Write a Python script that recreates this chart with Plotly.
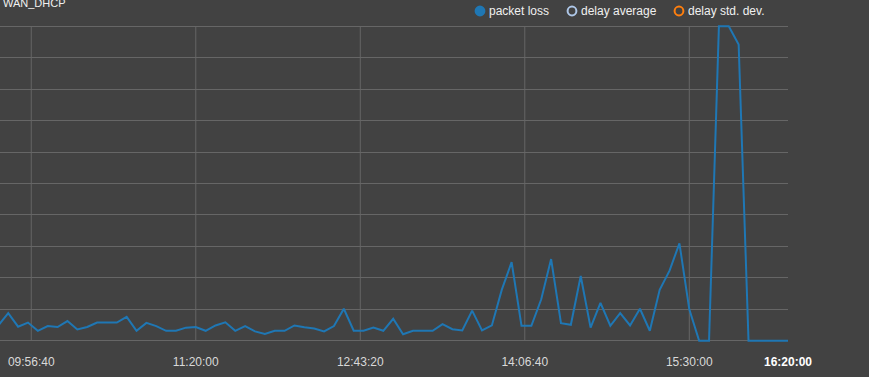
import plotly.graph_objects as go
import pandas as pd

# ---------------- data ----------------
chart_title = "WAN_DHCP"
day = "2024-05-14"
start_time = "09:40:00"
end_time = "16:20:00"
view_start = "09:40:50"

times = pd.date_range(f"{day} {start_time}", f"{day} {end_time}", freq="5min")

packet_loss = [
    4.9, 8.8, 4.5, 5.8, 3.2, 4.7, 4.4, 6.3, 3.6, 4.4,
    5.8, 5.8, 5.8, 7.6, 3.2, 5.7, 4.7, 3.2, 3.2, 4.2,
    4.4, 3.2, 4.9, 5.9, 3.2, 4.7, 3.0, 2.2, 3.2, 3.2,
    4.9, 4.3, 3.9, 3.0, 4.7, 10.2, 3.2, 3.2, 4.2, 3.2,
    7.0, 2.1, 3.2, 3.2, 3.2, 5.3, 3.7, 3.3, 9.6, 3.3,
    4.9, 16.2, 25.0, 4.8, 4.8, 13.2, 26.0, 5.6, 5.1, 20.6,
    4.2, 12.1, 4.8, 8.8, 4.9, 10.2, 3.2, 16.2, 22.3, 31.0,
    10.0, 0.0, 0.0, 100.0, 100.0, 94.2, 0.0, 0.0, 0.0, 0.0,
    0.0,
]

series_names = ["packet loss", "delay average", "delay std. dev."]
series_colors = ["#1f77b4", "#aec7e8", "#ff7f0e"]
series_enabled = [True, False, False]

grid_ticks = ["09:56:40", "11:20:00", "12:43:20", "14:06:40", "15:30:00"]
last_tick = "16:20:00"
y_max = 100
y_step = 10

# ---------------- style ----------------
BG = "#424242"
GRID = "#666666"
TICK_COLOR = "#d9d9d9"
TEXT_COLOR = "#f0f0f0"
FONT = "Liberation Sans, Arial, sans-serif"

W, H = 869, 377
ML, MR, MT, MB = 0, 81, 23, 33
PW = W - ML - MR
PH = H - MT - MB


def px_x(px):
    return (px - ML) / PW


def px_y(py):
    return (H - MB - py) / PH


fig = go.Figure()

fig.add_trace(go.Scatter(
    x=times, y=packet_loss, mode="lines",
    line=dict(color=series_colors[0], width=2),
    name=series_names[0], showlegend=False,
))

shapes = []
for t in grid_ticks:
    shapes.append(dict(
        type="line", xref="x", yref="y",
        x0=f"{day} {t}", x1=f"{day} {t}", y0=0, y1=y_max,
        line=dict(color=GRID, width=1), layer="below",
    ))

# custom legend (circles + text)
legend_circle_px = [480, 572, 679]
legend_text_px = [487, 579, 686]
legend_y_px = 11
annotations = []
for name, col, en, cx, tx in zip(series_names, series_colors, series_enabled,
                                 legend_circle_px, legend_text_px):
    if en:
        shapes.append(dict(
            type="circle", xref="paper", yref="paper",
            xsizemode="pixel", ysizemode="pixel",
            xanchor=px_x(cx), yanchor=px_y(legend_y_px),
            x0=-5.4, x1=5.4, y0=-5.4, y1=5.4,
            fillcolor=col, line=dict(color=col, width=0),
        ))
    else:
        shapes.append(dict(
            type="circle", xref="paper", yref="paper",
            xsizemode="pixel", ysizemode="pixel",
            xanchor=px_x(cx), yanchor=px_y(legend_y_px),
            x0=-4.4, x1=4.4, y0=-4.4, y1=4.4,
            fillcolor="rgba(0,0,0,0)", line=dict(color=col, width=2),
        ))
    annotations.append(dict(
        text=name, xref="paper", yref="paper",
        x=px_x(tx), y=px_y(legend_y_px + 0.5),
        xanchor="left", yanchor="middle", showarrow=False,
        font=dict(family=FONT, size=12, color=TEXT_COLOR),
    ))

annotations.append(dict(
    text=chart_title, xref="paper", yref="paper",
    x=px_x(1), y=px_y(2.5), xanchor="left", yanchor="middle",
    showarrow=False, font=dict(family=FONT, size=11, color=TEXT_COLOR),
))

tick_vals = [f"{day} {t}" for t in grid_ticks] + [f"{day} {last_tick}"]
tick_text = grid_ticks + [f"<b><span style='color:#ffffff'>{last_tick}</span></b>"]

fig.update_layout(
    width=W, height=H,
    margin=dict(l=ML, r=MR, t=MT, b=MB, pad=0),
    paper_bgcolor=BG, plot_bgcolor=BG,
    showlegend=False,
    font=dict(family=FONT, size=12, color=TICK_COLOR),
    xaxis=dict(
        type="date",
        range=[f"{day} {view_start}", f"{day} {end_time}"],
        tickmode="array", tickvals=tick_vals, ticktext=tick_text,
        showgrid=False, zeroline=False, showline=False, ticks="",
        tickfont=dict(family=FONT, size=12, color=TICK_COLOR),
        ticklabelstandoff=9,
    ),
    yaxis=dict(
        range=[-1, y_max + 1], tick0=0, dtick=y_step,
        showgrid=True, gridcolor=GRID, gridwidth=1,
        zeroline=False, showline=False, showticklabels=False, ticks="",
    ),
    shapes=shapes,
    annotations=annotations,
)

fig.write_html("out.html")
